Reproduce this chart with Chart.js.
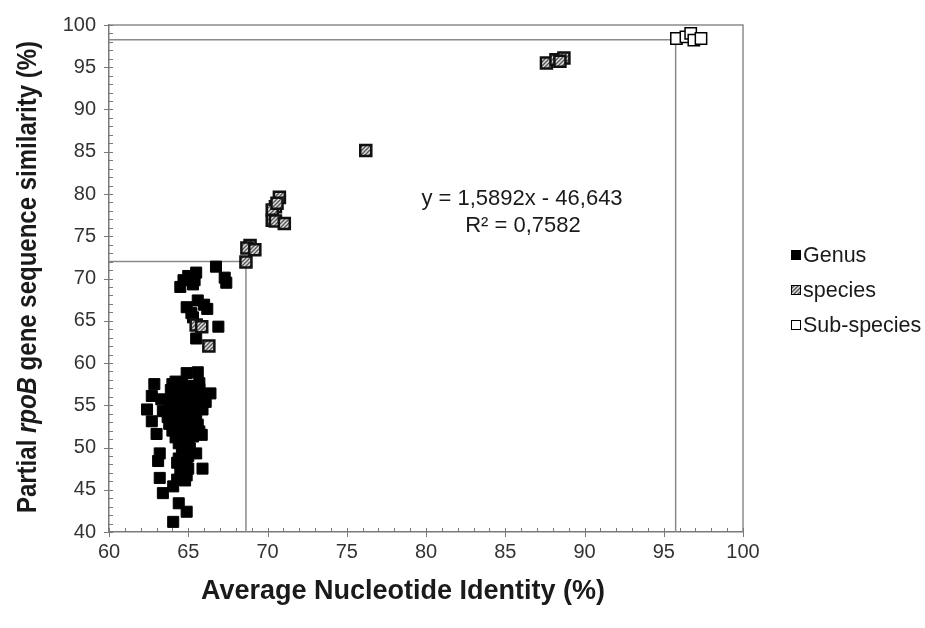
<!DOCTYPE html>
<html>
<head>
<meta charset="utf-8">
<script src="https://cdn.jsdelivr.net/npm/chart.js@4.4.0/dist/chart.umd.min.js"></script>
<style>
    html, body { margin: 0; padding: 0; background: #fff; }
    #wrap { width: 925px; height: 628px; }
</style>
</head>
<body>
<div id="wrap"><canvas id="aniChart" width="925" height="628"></canvas></div>
<script>
// ANI (%) vs partial rpoB similarity (%)
const genusANI = [
    66.75, 65.5, 65.0, 64.7, 65.4, 64.5, 65.3, 67.3, 67.4, 65.6, 66.0, 66.2, 64.9, 65.3, 66.9, 65.5, 65.2,
    64.9, 65.6, 62.86, 64.2, 65.7, 66.4, 62.7, 62.4, 63.3, 63.4, 62.7, 63.0, 64.3, 65.85, 65.5, 63.2, 63.1,
    64.4, 64.5, 65.0, 65.9, 63.2, 64.8, 64.05, 63.4, 64.4, 64.9, 64.05,
    64.0, 64.6, 65.2, 63.9, 64.5, 65.1, 65.7, 64.0, 64.6, 65.2, 65.8, 63.8, 64.4, 65.0, 65.6, 66.1,
    63.9, 64.6, 65.3, 65.9, 63.7, 64.3, 64.9, 65.5, 63.8, 64.4, 65.0, 65.6, 64.0, 64.6, 65.2, 65.7,
    64.2, 64.8, 65.3, 64.4, 65.0, 64.6, 65.1, 65.0, 64.3, 64.9, 64.6, 64.3, 64.9
];
const genusRpoB = [
    71.4, 70.7, 70.3, 69.8, 69.8, 69.0, 69.3, 70.1, 69.5, 67.4, 66.9, 66.4, 66.6, 65.4, 64.3, 62.9, 65.9,
    58.8, 58.9, 57.5, 57.8, 57.6, 56.4, 56.1, 54.5, 55.7, 54.3, 53.1, 51.6, 54.7, 51.5, 49.3, 49.3, 48.4,
    48.7, 47.5, 47.5, 47.5, 46.4, 46.1, 45.4, 44.6, 43.4, 42.4, 41.2,
    57.5, 57.5, 57.3, 56.8, 56.8, 56.7, 56.9, 56.0, 56.0, 56.1, 55.9, 55.2, 55.3, 55.2, 55.1, 55.4,
    54.4, 54.3, 54.4, 54.5, 53.6, 53.6, 53.7, 53.5, 52.8, 52.8, 52.9, 52.7, 52.0, 52.0, 52.1, 51.9,
    51.2, 51.2, 51.3, 50.5, 50.4, 49.8, 49.9, 49.0, 48.2, 48.3, 47.0, 46.2, 46.7
];

const speciesANI = [68.64, 68.9, 68.7, 69.2, 70.75, 70.5, 70.3, 70.6, 70.3, 70.5, 71.06, 76.2, 87.6, 88.2, 88.7, 88.45, 65.5, 65.85, 66.3];
const speciesRpoB = [71.95, 73.9, 73.6, 73.4, 79.6, 78.5, 78.1, 78.9, 76.9, 76.8, 76.5, 85.15, 95.5, 95.9, 96.1, 95.7, 64.5, 64.3, 62.0];

const subspeciesANI = [95.8, 96.4, 96.7, 96.9, 97.35];
const subspeciesRpoB = [98.4, 98.6, 99.0, 98.2, 98.4];

// threshold guides (genus / species boundaries)
const speciesCutX = [60, 95.75, 95.75];
const speciesCutY = [98.25, 98.25, 40];
const genusCutX = [60, 68.64, 68.64];
const genusCutY = [72, 72, 40];

const trendLines = ['y = 1,5892x - 46,643', 'R\u00b2 = 0,7582'];

const toPoints = (xs, ys) => xs.map((x, i) => ({ x: x, y: ys[i] }));

function makeHatch() {
    const c = document.createElement('canvas');
    c.width = 4; c.height = 4;
    const g = c.getContext('2d');
    g.fillStyle = '#dcdcdc';
    g.fillRect(0, 0, 4, 4);
    g.strokeStyle = '#555';
    g.lineWidth = 1.3;
    g.beginPath();
    g.moveTo(-1, 1); g.lineTo(1, -1);
    g.moveTo(0, 4); g.lineTo(4, 0);
    g.moveTo(3, 5); g.lineTo(5, 3);
    g.stroke();
    return document.getElementById('aniChart').getContext('2d').createPattern(c, 'repeat');
}
const hatch = makeHatch();

const tickFont = { family: 'Arial, "Liberation Sans", sans-serif', size: 20 };

// frame + minor/major tick marks
const plotFrame = {
    id: 'plotFrame',
    afterDraw(chart) {
        const { ctx, chartArea: a, scales } = chart;
        ctx.save();
        ctx.strokeStyle = '#8c8c8c';
        ctx.lineWidth = 1.5;
        ctx.beginPath();
        ctx.moveTo(a.left, a.top); ctx.lineTo(a.right, a.top); ctx.lineTo(a.right, a.bottom);
        ctx.stroke();

        ctx.strokeStyle = '#7a7a7a';
        ctx.lineWidth = 1;
        ctx.beginPath();
        for (let v = 60; v <= 100; v++) {
            const px = Math.round(scales.x.getPixelForValue(v)) + 0.5;
            const major = v % 5 === 0;
            ctx.moveTo(px, a.bottom + (major ? 5 : 0));
            ctx.lineTo(px, a.bottom - 4);
        }
        for (let v = 40; v <= 100; v++) {
            const py = Math.round(scales.y.getPixelForValue(v)) + 0.5;
            const major = v % 5 === 0;
            ctx.moveTo(a.left - (major ? 5 : 0), py);
            ctx.lineTo(a.left + 4, py);
        }
        ctx.stroke();
        ctx.restore();
    }
};

// axis titles, regression label and legend
const chartText = {
    id: 'chartText',
    afterDraw(chart) {
        const { ctx } = chart;
        ctx.save();
        ctx.fillStyle = '#1a1a1a';
        ctx.textBaseline = 'middle';

        ctx.font = 'bold 27px Arial, "Liberation Sans", sans-serif';
        ctx.textAlign = 'center';
        ctx.fillText('Average Nucleotide Identity (%)', 403, 592);

        const parts = [
            ['Partial ', 'bold 24px Arial, "Liberation Sans", sans-serif'],
            ['rpoB', 'italic bold 24px Arial, "Liberation Sans", sans-serif'],
            [' gene sequence similarity (%)', 'bold 24px Arial, "Liberation Sans", sans-serif']
        ];
        let total = 0;
        parts.forEach(p => { ctx.font = p[1]; total += ctx.measureText(p[0]).width; });
        ctx.translate(28, 277);
        ctx.rotate(-Math.PI / 2);
        ctx.scale(1, 1.18);
        ctx.textAlign = 'left';
        let x = -total / 2;
        parts.forEach(p => { ctx.font = p[1]; ctx.fillText(p[0], x, 0); x += ctx.measureText(p[0]).width; });
        ctx.setTransform(1, 0, 0, 1, 0, 0);

        ctx.font = '22px Arial, "Liberation Sans", sans-serif';
        ctx.textAlign = 'center';
        ctx.fillText(trendLines[0], 522, 199);
        ctx.fillText(trendLines[1], 523, 226);

        const items = chart.data.datasets.filter(d => d.legend);
        ctx.font = '21.5px Arial, "Liberation Sans", sans-serif';
        ctx.textAlign = 'left';
        items.forEach((d, i) => {
            const y = 255 + i * 35;
            ctx.fillStyle = d.backgroundColor;
            ctx.fillRect(791, y - 5, 10, 10);
            ctx.strokeStyle = '#000';
            ctx.lineWidth = 1;
            ctx.strokeRect(791.5, y - 4.5, 9, 9);
            ctx.fillStyle = '#1a1a1a';
            ctx.fillText(d.label, 803, y + 1);
        });
        ctx.restore();
    }
};

new Chart(document.getElementById('aniChart').getContext('2d'), {
    type: 'scatter',
    data: {
        datasets: [
            {
                label: 'Genus', legend: true,
                data: toPoints(genusANI, genusRpoB),
                pointStyle: 'rect', pointRadius: 7.8,
                backgroundColor: '#000', borderColor: '#000', borderWidth: 1,
                order: 3
            },
            {
                label: 'species', legend: true,
                data: toPoints(speciesANI, speciesRpoB),
                pointStyle: 'rect', pointRadius: 7.8,
                backgroundColor: hatch, borderColor: '#111', borderWidth: 2.5,
                order: 2
            },
            {
                label: 'Sub-species', legend: true,
                data: toPoints(subspeciesANI, subspeciesRpoB),
                pointStyle: 'rect', pointRadius: 8,
                backgroundColor: '#fff', borderColor: '#000', borderWidth: 1.5,
                order: 1
            },
            {
                label: 'species cut-off', type: 'line',
                data: toPoints(speciesCutX, speciesCutY),
                borderColor: '#8a8a8a', borderWidth: 1.5, pointRadius: 0, fill: false, tension: 0,
                order: 10
            },
            {
                label: 'genus cut-off', type: 'line',
                data: toPoints(genusCutX, genusCutY),
                borderColor: '#8a8a8a', borderWidth: 1.5, pointRadius: 0, fill: false, tension: 0,
                order: 10
            }
        ]
    },
    options: {
        responsive: false,
        animation: false,
        layout: { padding: { top: 20, right: 182, left: 0, bottom: 0 } },
        plugins: { legend: { display: false }, tooltip: { enabled: false } },
        scales: {
            x: {
                type: 'linear', min: 60, max: 100,
                ticks: { stepSize: 5, font: tickFont, color: '#333', padding: 8, maxRotation: 0 },
                grid: { display: false, drawTicks: false },
                border: { color: '#7a7a7a', width: 1.5 },
                afterFit: s => { s.height = 96; }
            },
            y: {
                type: 'linear', min: 40, max: 100,
                ticks: { stepSize: 5, font: tickFont, color: '#333', padding: 13 },
                grid: { display: false, drawTicks: false },
                border: { color: '#7a7a7a', width: 1.5 },
                afterFit: s => { s.width = 109; }
            }
        }
    },
    plugins: [plotFrame, chartText]
});
</script>
</body>
</html>
